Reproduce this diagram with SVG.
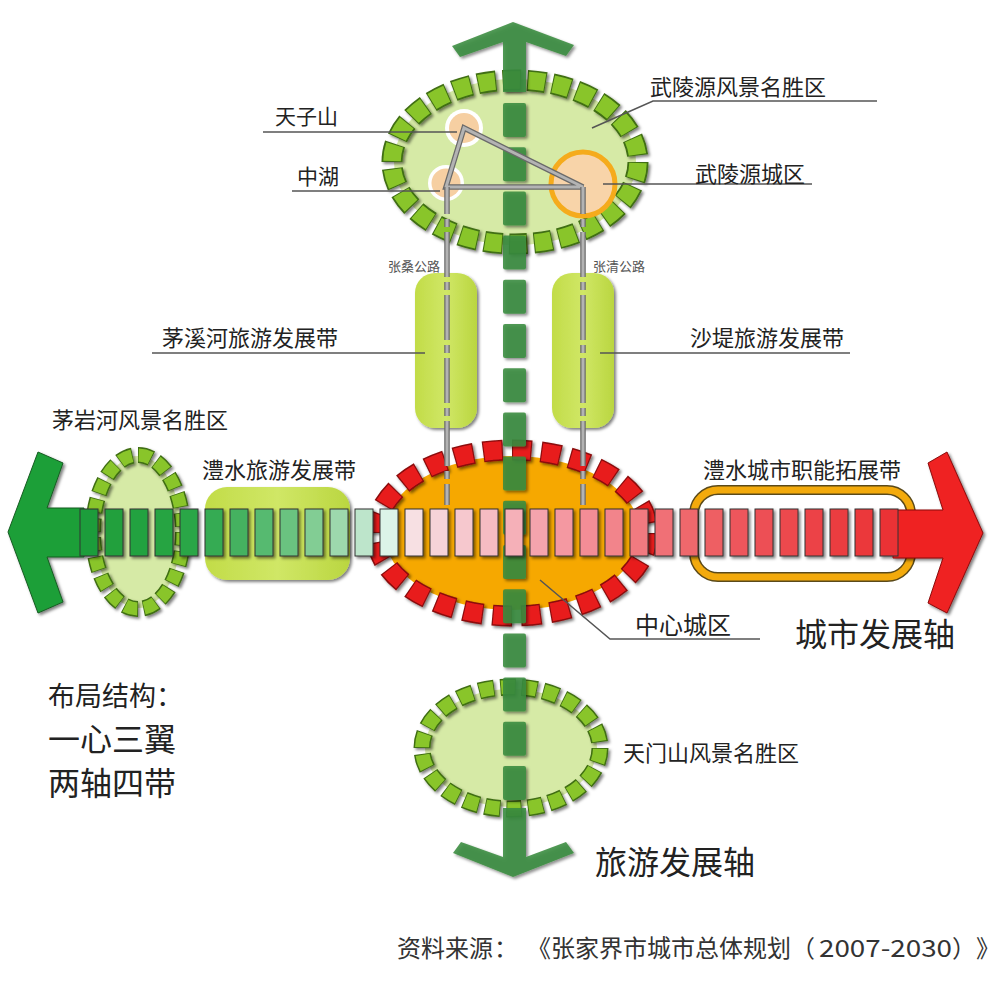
<svg xmlns="http://www.w3.org/2000/svg" width="1000" height="981" viewBox="0 0 1000 981">
<defs>
<style>
.t{font-family:"Noto Sans CJK SC","Noto Sans",sans-serif;fill:#222}
.l22{font-size:22px}
.src{font-size:24px;fill:#333}
.lead{fill:none;stroke:#555;stroke-width:1.5}
.gfill{fill:#d6eaa6}
.gb{fill:none;stroke:#3f6e12}
.gi{fill:none;stroke:#89c52c}
.rb{fill:none;stroke:#8a0a0a}
.ri{fill:none;stroke:#e81d1f}
.ax{fill:#3a8b3e;opacity:0.88}
.roadB{fill:none;stroke:#6a6a6a;stroke-width:5.5}
.roadL{fill:none;stroke:#b3b3b3;stroke-width:3}
.bar{stroke:#333;stroke-width:1}
</style>
<filter id="sh" x="-20%" y="-20%" width="140%" height="140%">
<feDropShadow dx="2" dy="2" stdDeviation="1.5" flood-color="#000" flood-opacity="0.5"/>
</filter>
<linearGradient id="bandG" x1="0" y1="0" x2="1" y2="0">
<stop offset="0" stop-color="#c2dc48"/><stop offset="0.5" stop-color="#d0e766"/><stop offset="1" stop-color="#bad640"/>
</linearGradient>
</defs>
<rect width="1000" height="981" fill="#ffffff"/>

<!-- 武陵源风景名胜区 -->
<g id="wulingyuan">
<ellipse class="gfill" cx="515" cy="162" rx="121" ry="83"/>
<g filter="url(#sh)">
<path class="gb" stroke-width="21" pathLength="2600" stroke-dasharray="74 26" d="M638,162 A123,82 0 1 1 392,162 A123,82 0 1 1 638,162 Z"/>
<path class="gi" stroke-width="17.5" pathLength="2600" stroke-dasharray="66 34" stroke-dashoffset="-4" d="M638,162 A123,82 0 1 1 392,162 A123,82 0 1 1 638,162 Z"/>
</g>
</g>
<g id="tianzishan">
<circle cx="464" cy="128" r="19" fill="#ffffff"/>
<circle cx="464" cy="128" r="15" fill="#f6cfa2"/>
</g>
<g id="zhonghu">
<circle cx="446" cy="183" r="18" fill="#ffffff"/>
<circle cx="446" cy="183" r="14.5" fill="#f6cfa2"/>
</g>
<g id="wulingyuan-city">
<circle cx="583" cy="184" r="32" fill="#f8d4a9" stroke="#f5ab1c" stroke-width="5"/>
</g>

<!-- 茅岩河风景名胜区 -->
<g id="maoyanhe">
<ellipse class="gfill" cx="138" cy="532" rx="43" ry="76"/>
<g filter="url(#sh)">
<path class="gb" stroke-width="16" pathLength="2000" stroke-dasharray="72 28" d="M183,532 A45,77 0 1 1 93,532 A45,77 0 1 1 183,532 Z"/>
<path class="gi" stroke-width="13" pathLength="2000" stroke-dasharray="64 36" stroke-dashoffset="-4" d="M183,532 A45,77 0 1 1 93,532 A45,77 0 1 1 183,532 Z"/>
</g>
</g>

<!-- 天门山风景名胜区 -->
<g id="tianmenshan">
<ellipse class="gfill" cx="511" cy="748" rx="86" ry="59"/>
<g filter="url(#sh)">
<path class="gb" stroke-width="17" pathLength="2200" stroke-dasharray="72 28" d="M600,748 A89,61 0 1 1 422,748 A89,61 0 1 1 600,748 Z"/>
<path class="gi" stroke-width="14" pathLength="2200" stroke-dasharray="64 36" stroke-dashoffset="-4" d="M600,748 A89,61 0 1 1 422,748 A89,61 0 1 1 600,748 Z"/>
</g>
</g>

<!-- bands -->
<g id="maoxihe-band" filter="url(#sh)">
<rect x="415" y="273" width="62" height="155" rx="20" fill="url(#bandG)"/>
</g>
<g id="shadi-band" filter="url(#sh)">
<rect x="552" y="273" width="62" height="155" rx="20" fill="url(#bandG)"/>
</g>
<g id="lishui-tour-band" filter="url(#sh)">
<rect x="205" y="487" width="145" height="93" rx="22" fill="url(#bandG)"/>
</g>
<g id="lishui-city-band">
<rect x="694" y="490" width="217" height="87" rx="24" fill="#ffffff" stroke="#5b4a1a" stroke-width="10"/>
<rect x="694" y="490" width="217" height="87" rx="24" fill="none" stroke="#f3aa0c" stroke-width="7"/>
</g>

<!-- 中心城区 -->
<g id="center-city">
<ellipse cx="512" cy="533" rx="128" ry="77" fill="#f6a800"/>
<g filter="url(#sh)">
<path class="rb" stroke-width="21" pathLength="2400" stroke-dasharray="68 32" d="M648,533 A136,83 0 1 1 376,533 A136,83 0 1 1 648,533 Z"/>
<path class="ri" stroke-width="18" pathLength="2400" stroke-dasharray="60 40" stroke-dashoffset="-4" d="M648,533 A136,83 0 1 1 376,533 A136,83 0 1 1 648,533 Z"/>
</g>
</g>

<!-- 旅游发展轴 (vertical axis) -->
<g id="tourism-axis" filter="url(#sh)">
<polygon class="ax" points="513,22 574,45 566,56 526,42 526,92 503,92 503,42 460,57 452,46"/>
<rect class="ax" x="503" y="103" width="23" height="34" rx="2"/>
<rect class="ax" x="503" y="147.2" width="23" height="34" rx="2"/>
<rect class="ax" x="503" y="191.4" width="23" height="34" rx="2"/>
<rect class="ax" x="503" y="235.6" width="23" height="34" rx="2"/>
<rect class="ax" x="503" y="279.8" width="23" height="34" rx="2"/>
<rect class="ax" x="503" y="324" width="23" height="34" rx="2"/>
<rect class="ax" x="503" y="368.2" width="23" height="34" rx="2"/>
<rect class="ax" x="503" y="412.4" width="23" height="34" rx="2"/>
<rect class="ax" x="503" y="456.6" width="23" height="34" rx="2"/>
<rect class="ax" x="503" y="500.8" width="23" height="34" rx="2"/>
<rect class="ax" x="503" y="545" width="23" height="34" rx="2"/>
<rect class="ax" x="503" y="589.2" width="23" height="34" rx="2"/>
<rect class="ax" x="503" y="633.4" width="23" height="34" rx="2"/>
<rect class="ax" x="503" y="677.6" width="23" height="34" rx="2"/>
<rect class="ax" x="503" y="721.8" width="23" height="34" rx="2"/>
<rect class="ax" x="503" y="766" width="23" height="34" rx="2"/>
<polygon class="ax" points="503,808 526,808 526,857 566,842 574,853 513,877 453,853 461,842 503,857"/>
</g>

<!-- roads -->
<g id="roads">
<path class="roadB" d="M464,128 L446,187 L583,187 Z"/>
<path class="roadL" d="M464,128 L446,187 L583,187 Z"/>
<line class="roadB" x1="447" y1="187" x2="447" y2="505" stroke-dasharray="45 5 8 5" stroke-dashoffset="18"/>
<line class="roadL" x1="447" y1="187" x2="447" y2="505" stroke-dasharray="45 5 8 5" stroke-dashoffset="18"/>
<line class="roadB" x1="583" y1="187" x2="583" y2="505" stroke-dasharray="45 5 8 5" stroke-dashoffset="18"/>
<line class="roadL" x1="583" y1="187" x2="583" y2="505" stroke-dasharray="45 5 8 5" stroke-dashoffset="18"/>
</g>

<!-- 城市发展轴 (horizontal axis) -->
<g id="city-axis" filter="url(#sh)">
<polygon points="8,532 38,452 63,463 47,508 84,508 84,557 47,557 63,602 38,613" fill="#1f9f37" stroke="#145c22" stroke-width="1"/>
<polygon points="893,510 943,510 928,463 947,452 983,533 947,613 928,603 943,558 893,558" fill="#ef2020" stroke="#8a0a0a" stroke-width="1"/>
<rect class="bar" x="80" y="509" width="18" height="47" fill="#1f9d3a"/>
<rect class="bar" x="105" y="509" width="18" height="47" fill="#21a03d"/>
<rect class="bar" x="130" y="509" width="18" height="47" fill="#24a240"/>
<rect class="bar" x="155" y="509" width="18" height="47" fill="#27a443"/>
<rect class="bar" x="180" y="509" width="18" height="47" fill="#2aa646"/>
<rect class="bar" x="205" y="509" width="18" height="47" fill="#36ab52"/>
<rect class="bar" x="230" y="509" width="18" height="47" fill="#45b260"/>
<rect class="bar" x="255" y="509" width="18" height="47" fill="#56ba6f"/>
<rect class="bar" x="280" y="509" width="18" height="47" fill="#6ac380"/>
<rect class="bar" x="305" y="509" width="18" height="47" fill="#82cd94"/>
<rect class="bar" x="330" y="509" width="18" height="47" fill="#9dd8ad"/>
<rect class="bar" x="355" y="509" width="18" height="47" fill="#bde5cb"/>
<rect class="bar" x="380" y="509" width="18" height="47" fill="#dcf3e8"/>
<rect class="bar" x="405" y="509" width="18" height="47" fill="#f7e0e3"/>
<rect class="bar" x="430" y="509" width="18" height="47" fill="#f6d3d8"/>
<rect class="bar" x="455" y="509" width="18" height="47" fill="#f6c8ce"/>
<rect class="bar" x="480" y="509" width="18" height="47" fill="#f6bcc3"/>
<rect class="bar" x="505" y="509" width="18" height="47" fill="#f5b0b8"/>
<rect class="bar" x="530" y="509" width="18" height="47" fill="#f5a4ad"/>
<rect class="bar" x="555" y="509" width="18" height="47" fill="#f498a1"/>
<rect class="bar" x="580" y="509" width="18" height="47" fill="#f38d96"/>
<rect class="bar" x="605" y="509" width="18" height="47" fill="#f2848b"/>
<rect class="bar" x="630" y="509" width="18" height="47" fill="#f17a80"/>
<rect class="bar" x="655" y="509" width="18" height="47" fill="#f07076"/>
<rect class="bar" x="680" y="509" width="18" height="47" fill="#ef676c"/>
<rect class="bar" x="705" y="509" width="18" height="47" fill="#ee5f63"/>
<rect class="bar" x="730" y="509" width="18" height="47" fill="#ee575b"/>
<rect class="bar" x="755" y="509" width="18" height="47" fill="#ed5054"/>
<rect class="bar" x="780" y="509" width="18" height="47" fill="#ec494d"/>
<rect class="bar" x="805" y="509" width="18" height="47" fill="#ec4347"/>
<rect class="bar" x="830" y="509" width="18" height="47" fill="#eb3d41"/>
<rect class="bar" x="855" y="509" width="18" height="47" fill="#eb373b"/>
<rect class="bar" x="880" y="509" width="18" height="47" fill="#ea3236"/>
</g>

<!-- leader lines -->
<g id="connectors">
<polyline class="lead" points="877,101 653,101 592,128"/>
<line class="lead" x1="263" y1="132" x2="457" y2="132"/>
<line class="lead" x1="292" y1="191" x2="440" y2="191"/>
<line class="lead" x1="603" y1="184" x2="812" y2="184"/>
<line class="lead" x1="152" y1="353" x2="425" y2="353"/>
<line class="lead" x1="600" y1="353" x2="850" y2="353"/>
<polyline class="lead" points="540,580 610,639 760,639"/>
</g>

<!-- labels -->
<g id="labels">
<text class="t l22" x="650" y="95">武陵源风景名胜区</text>
<text class="t" x="275" y="124" font-size="21">天子山</text>
<text class="t" x="297" y="184" font-size="21">中湖</text>
<text class="t l22" x="695" y="182">武陵源城区</text>
<text class="t" x="388" y="271" font-size="13" style="fill:#555">张桑公路</text>
<text class="t" x="593" y="271" font-size="13" style="fill:#555">张清公路</text>
<text class="t l22" x="162" y="346">茅溪河旅游发展带</text>
<text class="t l22" x="690" y="346">沙堤旅游发展带</text>
<text class="t l22" x="52" y="428">茅岩河风景名胜区</text>
<text class="t l22" x="202" y="478">澧水旅游发展带</text>
<text class="t l22" x="703" y="478">澧水城市职能拓展带</text>
<text class="t" x="635" y="634" font-size="24">中心城区</text>
<text class="t" x="795" y="646" font-size="32">城市发展轴</text>
<text class="t l22" x="623" y="761">天门山风景名胜区</text>
<text class="t" x="595" y="874" font-size="32">旅游发展轴</text>
<text class="t" x="48" y="706" font-size="27">布局结构：</text>
<text class="t" x="48" y="751" font-size="32">一心三翼</text>
<text class="t" x="48" y="795" font-size="32">两轴四带</text>
</g>
<g id="source">
<text class="t src" x="397" y="957">资料来源</text>
<text class="t src" x="494" y="957">：</text>
<text class="t src" x="527" y="957">《</text>
<text class="t src" x="551" y="957">张家界市城市总体规划</text>
<text class="t src" x="791" y="957">（</text>
<text class="t src" x="819" y="957" textLength="133" lengthAdjust="spacingAndGlyphs">2007-2030</text>
<text class="t src" x="952" y="957">）</text>
<text class="t src" x="976" y="957">》</text>
</g>
</svg>
